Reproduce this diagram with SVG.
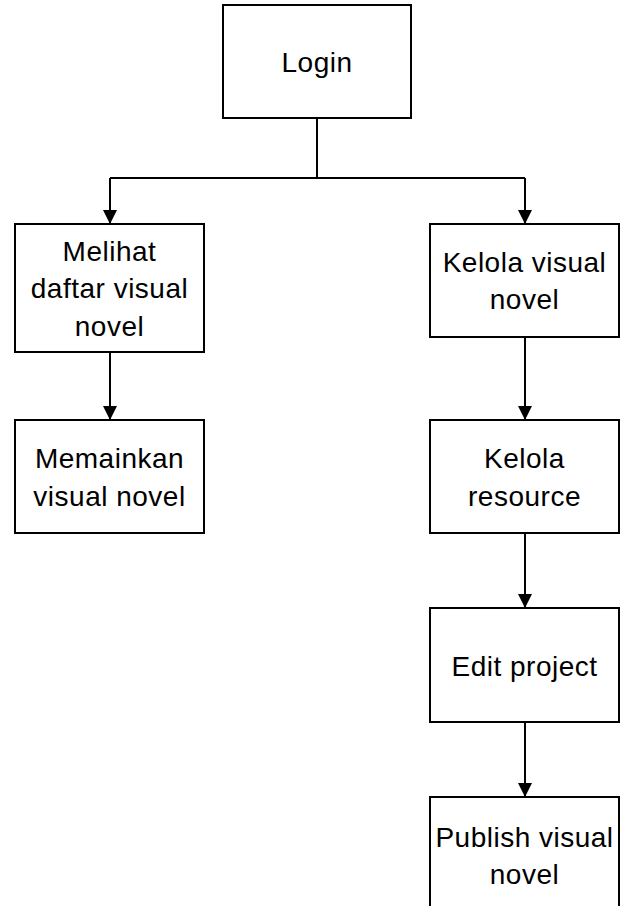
<svg xmlns="http://www.w3.org/2000/svg" width="621" height="906" viewBox="0 0 621 906">
<defs>
<style>
.box{fill:#fff;stroke:#000;stroke-width:2}
.t{font-family:"Liberation Sans",Arial,sans-serif;font-size:28px;letter-spacing:0.5px;fill:#000;text-anchor:middle}
.c{fill:none;stroke:#000;stroke-width:2}
</style>
<marker id="ah" markerUnits="userSpaceOnUse" viewBox="0 0 14 14" markerWidth="14" markerHeight="14" refX="14" refY="7" orient="auto">
<path d="M0,0 L14,7 L0,14 z" fill="#000"/>
</marker>
</defs>
<rect width="621" height="906" fill="#fff"/>
<g id="connectors">
<path class="c" d="M317,118 V178"/>
<path class="c" d="M110,178 H525"/>
<path class="c" d="M110,178 V224" marker-end="url(#ah)"/>
<path class="c" d="M525,178 V224" marker-end="url(#ah)"/>
<path class="c" d="M110,352 V420" marker-end="url(#ah)"/>
<path class="c" d="M525,337 V420" marker-end="url(#ah)"/>
<path class="c" d="M525,533 V608" marker-end="url(#ah)"/>
<path class="c" d="M525,722 V797" marker-end="url(#ah)"/>
</g>
<g id="login">
<rect class="box" x="223" y="5" width="188" height="113"/>
<text class="t" x="317" y="72">Login</text>
</g>
<g id="melihat">
<rect class="box" x="15" y="224" width="189" height="128"/>
<text class="t" x="109.5" y="261">Melihat</text>
<text class="t" x="109.5" y="298">daftar visual</text>
<text class="t" x="109.5" y="336">novel</text>
</g>
<g id="memainkan">
<rect class="box" x="15" y="420" width="189" height="113"/>
<text class="t" x="109.5" y="468">Memainkan</text>
<text class="t" x="109.5" y="506">visual novel</text>
</g>
<g id="kelola-vn">
<rect class="box" x="430" y="224" width="189" height="113"/>
<text class="t" x="524.5" y="272">Kelola visual</text>
<text class="t" x="524.5" y="309">novel</text>
</g>
<g id="kelola-resource">
<rect class="box" x="430" y="420" width="189" height="113"/>
<text class="t" x="524.5" y="468">Kelola</text>
<text class="t" x="524.5" y="506">resource</text>
</g>
<g id="edit-project">
<rect class="box" x="430" y="608" width="189" height="114"/>
<text class="t" x="524.5" y="676">Edit project</text>
</g>
<g id="publish">
<rect class="box" x="430" y="797" width="189" height="116"/>
<text class="t" x="524.5" y="847">Publish visual</text>
<text class="t" x="524.5" y="884">novel</text>
</g>
</svg>
